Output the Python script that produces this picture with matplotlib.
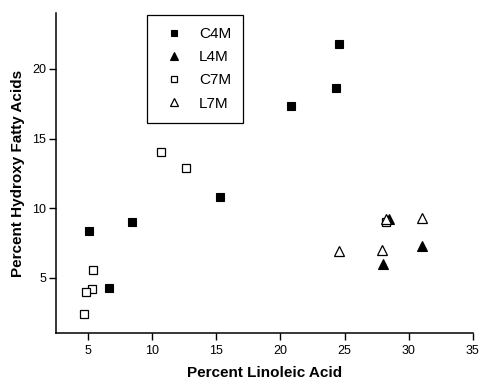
import matplotlib
matplotlib.use("Agg")
import matplotlib.pyplot as plt

plt.rcParams['font.family'] = ['Liberation Sans', 'DejaVu Sans']

# ---- data ----
c4m_x = [24.6, 24.3, 20.8, 15.3, 8.4, 5.1, 6.6]
c4m_y = [21.8, 18.6, 17.3, 10.8, 9.0, 8.4, 4.3]

l4m_x = [28.5, 28.0, 31.0]
l4m_y = [9.2, 6.0, 7.3]

c7m_x = [10.7, 12.6, 5.4, 5.3, 4.8, 4.7, 28.2]
c7m_y = [14.0, 12.9, 5.6, 4.2, 4.0, 2.4, 9.0]

l7m_x = [28.2, 31.0, 27.9, 24.6]
l7m_y = [9.2, 9.3, 7.0, 6.9]

xticks = [5, 10, 15, 20, 25, 30, 35]
yticks = [5, 10, 15, 20]

fig = plt.figure(figsize=(4.8, 3.83), dpi=100)
ax = fig.add_axes([0.1167, 0.1305, 0.985 - 0.1167, 0.966 - 0.1305])

ms = 6.3
ax.plot(c4m_x, c4m_y, 's', ms=ms, mfc='black', mec='black', mew=0.8, label='C4M')
ax.plot(l4m_x, l4m_y, '^', ms=ms + 0.8, mfc='black', mec='black', mew=0.8, label='L4M')
ax.plot(c7m_x, c7m_y, 's', ms=ms, mfc='white', mec='black', mew=0.9, label='C7M')
ax.plot(l7m_x, l7m_y, '^', ms=ms + 0.8, mfc='white', mec='black', mew=0.9, label='L7M')

ax.set_xlim(2.5, 35)
ax.set_ylim(1.05, 24)
ax.set_xticks(xticks)
ax.set_yticks(yticks)
ax.tick_params(direction='out', length=5, width=1, labelsize=9)
ax.tick_params(axis='x', pad=3.5)
ax.tick_params(axis='y', pad=2)

for s in ['top', 'right']:
    ax.spines[s].set_visible(False)
for s in ['left', 'bottom']:
    ax.spines[s].set_linewidth(1.1)

ax.set_xlabel('Percent Linoleic Acid', fontsize=11, fontweight='heavy', labelpad=6.5)
ax.set_ylabel('Percent Hydroxy Fatty Acids', fontsize=11, fontweight='heavy', labelpad=5)

leg = ax.legend(loc='upper left', bbox_to_anchor=(0.218, 0.994), borderaxespad=0,
                fancybox=False, edgecolor='black', fontsize=11, markerscale=0.75,
                handlelength=2.0, handletextpad=0.6, labelspacing=0.6,
                borderpad=0.8, framealpha=1)
leg.get_frame().set_linewidth(0.9)

fig.savefig('out.png', dpi=100)
